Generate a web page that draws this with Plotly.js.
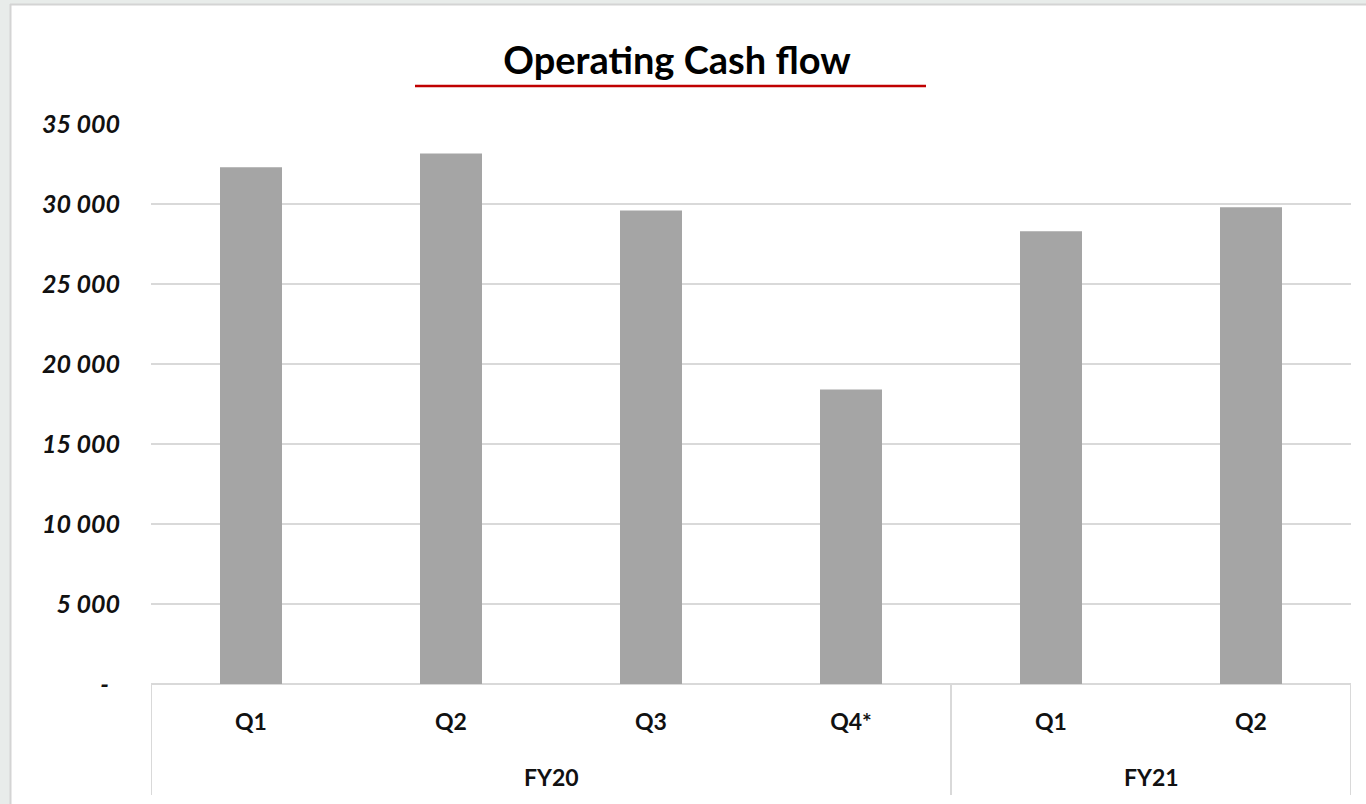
<!DOCTYPE html>
<html>
<head>
<meta charset="utf-8">
<script src="https://cdn.plot.ly/plotly-3.0.1.min.js"></script>
<style>
  html, body { margin: 0; padding: 0; background: #ffffff; }
  #chart { width: 1366px; height: 804px; }
</style>
</head>
<body>
<div id="chart"></div>
<script>
// ---- Data ----
const fiscalYears = ['FY20', 'FY20', 'FY20', 'FY20', 'FY21', 'FY21'];
const quarters = ['Q1', 'Q2', 'Q3', 'Q4*', 'Q1', 'Q2'];
const operatingCashFlow = [32300, 33150, 29600, 18400, 28300, 29800];
const yTickValues = [0, 5000, 10000, 15000, 20000, 25000, 30000, 35000];
const yTickLabels = ['-\u00a0\u00a0', '5 000', '10 000', '15 000', '20 000', '25 000', '30 000', '35 000'];
const chartTitle = 'Operating Cash flow';

// ---- Build ----
const xKeys = fiscalYears.map((fy, i) => fy + ' ' + quarters[i]);

// group spans for the fiscal-year level
const groups = [];
fiscalYears.forEach((fy, i) => {
  const last = groups[groups.length - 1];
  if (last && last.name === fy) { last.end = i; }
  else { groups.push({ name: fy, start: i, end: i }); }
});

const PX = 1 / 1200;  // paper units per pixel horizontally
const PY = 1 / 560;   // paper units per pixel vertically
const px2x = p => (p - 151) * PX;
const px2y = p => (684 - p) * PY;

const lineColor = '#d9d9d9';
const shapes = [];
// group dividers (left edge, between groups, right edge)
const dividerPositions = [groups[0].start - 0.5].concat(groups.map(g => g.end + 0.5));
dividerPositions.forEach(xv => {
  shapes.push({ type: 'line', xref: 'x', yref: 'paper', x0: xv, x1: xv,
    y0: 0, y1: px2y(795), line: { color: lineColor, width: 2 }, layer: 'above' });
});
// red underline under title
shapes.push({ type: 'line', xref: 'paper', yref: 'paper', x0: px2x(415), x1: px2x(926),
  y0: px2y(86), y1: px2y(86), line: { color: '#c00000', width: 2.5 } });
// outer grey frame strips (screenshot border)
shapes.push({ type: 'rect', xref: 'paper', yref: 'paper', x0: px2x(0), x1: px2x(10),
  y0: px2y(804), y1: px2y(0), fillcolor: '#e8ecea', line: { width: 0 } });
shapes.push({ type: 'rect', xref: 'paper', yref: 'paper', x0: px2x(0), x1: px2x(1366),
  y0: px2y(4), y1: px2y(0), fillcolor: '#e8ecea', line: { width: 0 } });
shapes.push({ type: 'line', xref: 'paper', yref: 'paper', x0: px2x(10.5), x1: px2x(10.5),
  y0: px2y(804), y1: px2y(4), line: { color: '#d4d4d4', width: 2 } });
shapes.push({ type: 'line', xref: 'paper', yref: 'paper', x0: px2x(10), x1: px2x(1366),
  y0: px2y(4.5), y1: px2y(4.5), line: { color: '#d4d4d4', width: 2 } });

const annotations = groups.map(g => ({
  xref: 'x', yref: 'paper', x: (g.start + g.end) / 2, y: px2y(777),
  text: g.name, showarrow: false, xanchor: 'center', yanchor: 'middle',
  font: { family: 'Lato, "Open Sans", sans-serif', size: 23, color: '#111111', weight: 'bold' }
}));

const trace = {
  type: 'bar',
  x: xKeys,
  y: operatingCashFlow,
  width: 0.31,
  marker: { color: '#a5a5a5', line: { width: 0 } },
  hoverinfo: 'skip'
};

const layout = {
  width: 1366,
  height: 804,
  margin: { l: 151, r: 15, t: 124, b: 120 },
  paper_bgcolor: '#ffffff',
  plot_bgcolor: '#ffffff',
  showlegend: false,
  title: {
    text: '<b>' + chartTitle + '</b>',
    x: 677 / 1366, xanchor: 'center',
    y: 1 - 61 / 804, yanchor: 'middle', yref: 'container',
    font: { family: 'Lato, "Open Sans", sans-serif', size: 38, color: '#000000' }
  },
  xaxis: {
    type: 'category',
    tickvals: xKeys,
    ticktext: quarters,
    range: [-0.5, xKeys.length - 0.5],
    showgrid: false,
    zeroline: false,
    showline: false,
    ticks: '',
    ticklabelstandoff: 22,
    tickfont: { family: 'Lato, "Open Sans", sans-serif', size: 23, color: '#111111', weight: 'bold' },
    fixedrange: true
  },
  yaxis: {
    range: [0, 35000],
    tickvals: yTickValues,
    ticktext: yTickLabels,
    showgrid: true,
    gridcolor: lineColor,
    gridwidth: 2,
    zeroline: true,
    zerolinecolor: lineColor,
    zerolinewidth: 2,
    showline: false,
    ticks: '',
    ticklabelstandoff: 30,
    tickfont: { family: 'Lato, "Open Sans", sans-serif', size: 25, color: '#111111', weight: 'bold', style: 'italic' },
    fixedrange: true
  },
  shapes: shapes,
  annotations: annotations
};

Plotly.newPlot('chart', [trace], layout, { displayModeBar: false, staticPlot: true });
</script>
</body>
</html>
